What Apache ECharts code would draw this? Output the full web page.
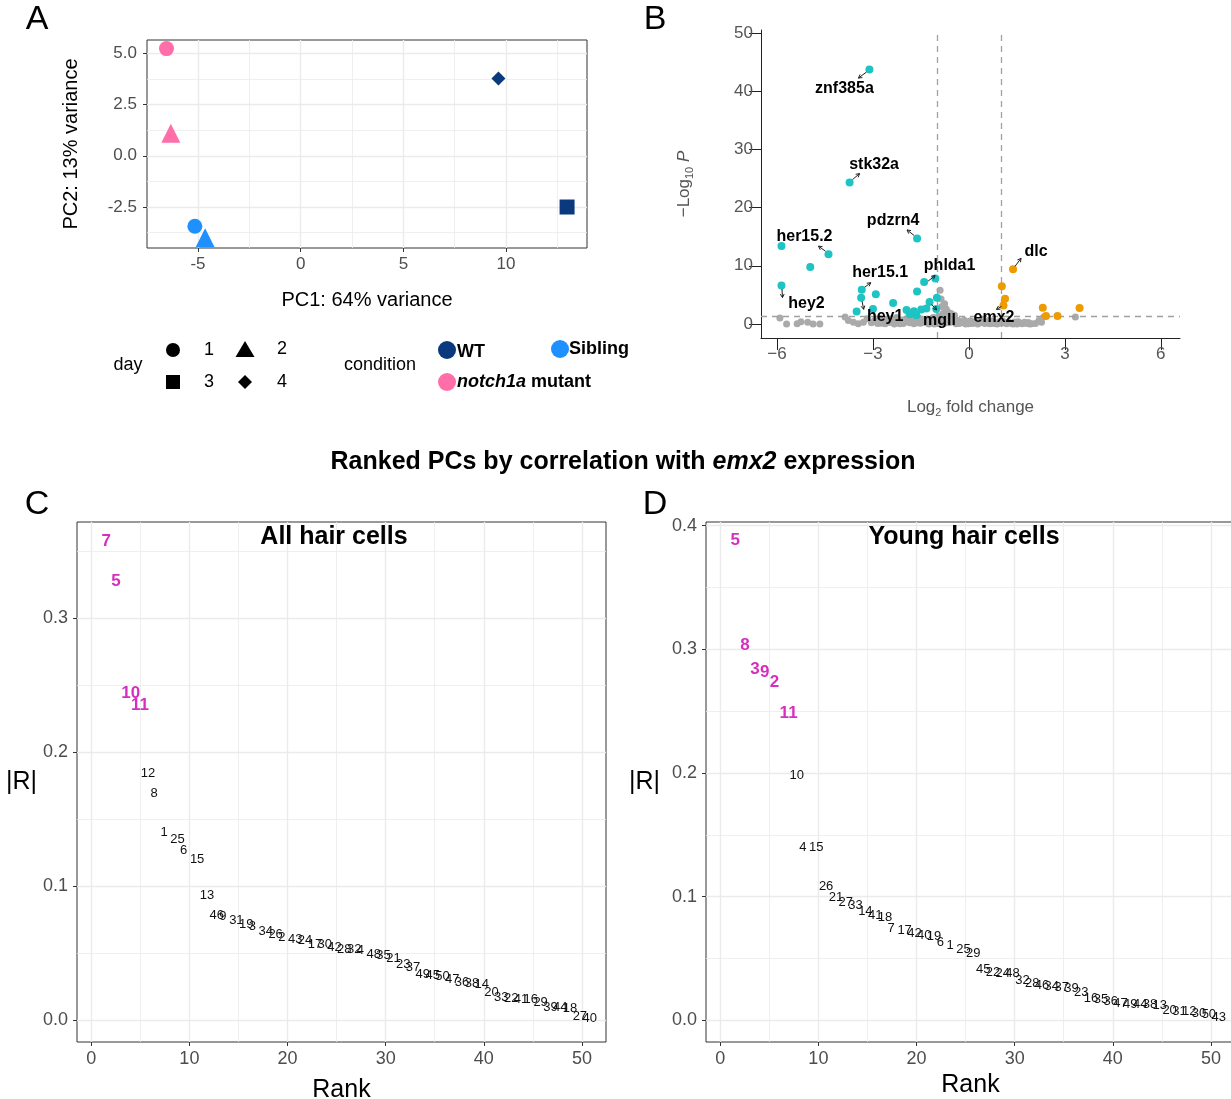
<!DOCTYPE html>
<html><head><meta charset="utf-8">
<script src="https://cdn.jsdelivr.net/npm/echarts@6/dist/echarts.min.js"></script>
<style>html,body{margin:0;padding:0;background:#fff}#c{width:1231px;height:1099px}</style>
</head><body><div id="c"></div>
<script>
// ---------------- DATA ----------------
// Panel A: PCA
const pcaX = [-6.53, -6.32, -5.15, -4.65, 9.63, 12.97];
const pcaY = [5.23, 1.10, -3.44, -4.00, 3.77, -2.50];
const pcaDay = [1, 2, 1, 2, 4, 3];
const pcaCond = ['notch1a mutant', 'notch1a mutant', 'Sibling', 'Sibling', 'WT', 'WT'];
const aXMajor = [-5, 0, 5, 10];
const aXMinor = [-2.5, 2.5, 7.5, 12.5];
const aYMajor = [-2.5, 0, 2.5, 5];
const aYMinor = [-3.75, -1.25, 1.25, 3.75];

// Panel B: volcano
const tealLfc = [-3.11,-3.73,-1.62,-5.86,-4.39,-4.96,-5.86,-1.05,-1.40,-3.35,-2.91,-1.62,-3.37,-1.00,-2.37,-1.23,-3.51,-3.00,-1.95,-1.72,-1.64,-1.49,-1.33,-1.02,-1.85];
const tealP   = [43.7, 24.3, 14.7, 13.4, 12.0, 9.8, 6.6, 7.8, 7.2, 5.9, 5.1, 5.6, 4.5, 4.5, 3.6, 3.8, 2.16, 2.6, 2.4, 2.2, 1.5, 2.5, 2.65, 2.6, 1.7];
const orgLfc = [1.38, 1.03, 1.13, 1.08, 2.31, 3.46, 2.41, 2.77];
const orgP   = [9.4, 6.5, 4.35, 3.2, 2.8, 2.75, 1.36, 1.36];
const grayLfc = [-5.91,-5.70,-5.37,-5.25,-5.04,-4.87,-4.66,-3.87,-3.77,-3.61,-3.46,-3.30,-3.18,
 -3.05,-2.95,-2.85,-2.78,-2.70,-2.62,-2.55,-2.48,-2.40,-2.33,-2.26,-2.20,-2.12,-2.05,-1.98,-1.92,-1.85,-1.78,-1.72,-1.65,-1.58,-1.52,-1.45,-1.38,-1.32,-1.25,-1.18,-1.12,-1.05,-0.98,
 -0.90,-0.87,-0.76,-0.71,-0.66,-0.81,-0.56,-0.45,-0.85,-0.62,-0.95,-0.75,-0.68,-0.50,
 -0.92,-0.85,-0.78,-0.70,-0.62,-0.55,-0.48,-0.40,-0.33,-0.25,-0.18,-0.10,-0.03,0.05,0.12,0.20,0.28,0.35,0.42,0.50,0.58,0.65,0.72,0.80,0.88,0.95,1.02,1.10,1.18,1.26,1.34,1.42,1.50,1.58,1.66,1.74,1.82,1.90,
 -2.90,-2.75,-2.58,-2.44,-2.30,-2.16,-2.02,-1.88,-1.75,-1.62,-1.48,-1.35,-1.22,-1.08,-0.95,-0.74,-0.58,-0.44,-0.30,-0.14,0.00,0.15,0.30,0.46,0.62,0.76,0.92,1.06,1.22,1.38,1.54,1.70,1.86,1.96,
 2.08,2.19,2.34,2.27,3.33];
const grayP = [1.02,0.0,0.05,0.4,0.3,0.0,0.0,1.2,0.6,0.3,0.05,0.3,0.9,
 0.2,0.6,0.1,1.0,0.35,0.05,0.8,0.25,0.5,0.0,1.1,0.3,0.7,0.1,0.45,0.9,0.2,0.6,0.05,0.35,1.0,0.15,0.55,0.25,0.8,0.0,0.4,1.1,0.2,0.65,
 5.8,4.3,3.5,2.6,2.1,1.8,1.8,1.5,3.0,1.3,1.4,1.2,1.6,1.25,
 0.3,0.9,0.1,0.5,0.2,0.8,0.35,0.05,0.6,0.2,0.45,0.0,0.3,0.55,0.1,0.4,0.0,0.25,0.6,0.1,0.35,0.05,0.5,0.2,0.0,0.4,0.15,0.3,0.05,0.25,0.1,0.35,0.0,0.2,0.05,0.3,0.1,0.0,
 0.4,0.15,0.55,0.9,0.3,0.05,0.75,0.35,1.1,0.2,0.85,0.45,0.7,0.0,1.0,0.7,0.45,1.0,0.1,0.65,0.05,0.3,0.5,0.2,0.6,0.1,0.2,0.5,0.3,0.0,0.4,0.15,0.25,0.05,
 0.1,0.6,1.2,0.3,1.2];
const labGene = ['znf385a','stk32a','pdzrn4','her15.2','hey2','her15.1','hey1','phlda1','mgll','emx2','dlc'];
const labLfc  = [-3.11, -3.73, -1.62, -4.39, -5.86, -3.35, -3.37, -1.40, -1.23, 1.08, 1.38];
const labP    = [43.7, 24.3, 14.7, 12.0, 6.6, 5.9, 4.5, 7.2, 3.8, 3.2, 9.4];
const fcCut = [-1, 1];
const pCut = [1.3];
const bXTicks = [-6, -3, 0, 3, 6];
const bYTicks = [0, 10, 20, 30, 40, 50];

// Panel C / D: ranked PCs
const ranks = [1,2,3,4,5,6,7,8,9,10,11,12,13,14,15,16,17,18,19,20,21,22,23,24,25,26,27,28,29,30,31,32,33,34,35,36,37,38,39,40,41,42,43,44,45,46,47,48,49,50];
const cPC = [7,5,10,11,12,8,1,25,6,15,13,46,9,31,19,3,34,26,2,43,24,17,30,42,28,32,4,48,35,21,23,37,49,45,50,47,36,38,14,20,33,22,41,16,29,39,44,18,27,40];
const cR = [0.357,0.327,0.244,0.235,0.184,0.169,0.140,0.135,0.127,0.120,0.093,0.0785,0.0775,0.0743,0.0713,0.070,0.066,0.0643,0.0618,0.0605,0.0593,0.0568,0.0563,0.0543,0.053,0.0525,0.052,0.0493,0.048,0.0465,0.0413,0.0392,0.0343,0.0338,0.033,0.0305,0.028,0.0272,0.027,0.0205,0.0167,0.016,0.0158,0.0155,0.013,0.0098,0.0097,0.0092,0.003,0.0013];
const cTop = [7, 5, 10, 11];
const dPC = [5,8,3,9,2,11,10,4,15,26,21,27,33,14,41,18,7,17,42,40,19,6,1,25,29,45,22,24,48,32,28,46,34,37,39,23,16,35,36,47,49,44,38,13,20,31,12,30,50,43];
const dR = [0.388,0.303,0.2837,0.2816,0.273,0.248,0.198,0.140,0.140,0.108,0.0994,0.0954,0.0932,0.0877,0.0845,0.0836,0.0742,0.0726,0.0707,0.069,0.068,0.0628,0.061,0.0575,0.054,0.041,0.0385,0.0383,0.038,0.032,0.030,0.0283,0.0275,0.027,0.026,0.0229,0.018,0.0168,0.0154,0.014,0.0132,0.0127,0.0125,0.012,0.0078,0.0073,0.007,0.006,0.0052,0.0024];
const dTop = [5, 8, 3, 9, 2, 11];
const cXMajor = [0, 10, 20, 30, 40, 50];
const cXMinor = [5, 15, 25, 35, 45];
const cYMajor = [0, 0.1, 0.2, 0.3];
const cYMinor = [0.05, 0.15, 0.25, 0.35];
const dYMajor = [0, 0.1, 0.2, 0.3, 0.4];
const dYMinor = [0.05, 0.15, 0.25, 0.35];

// ---------------- STYLE ----------------
const FONT = '"Liberation Sans", Arial, Helvetica, sans-serif';
const condColor = {'WT': '#0A3A7D', 'Sibling': '#1E90FF', 'notch1a mutant': '#FF6EA8'};
const daySymbol = {1: ['circle', 15], 2: ['triangle', 19], 3: ['rect', 15], 4: ['diamond', 14]};
const TEAL = '#1EC3C3', ORANGE = '#EE9B00', GRAY = '#AAAAAA', MAGENTA = '#D62FBF';
const GRID_COL = '#EBEBEB';
// label placement (pixel offsets of text centre and arrow from the point)
const labelStyle = {
  'znf385a': {o: [-25, 19], a: [-3, 2.5, -11, 8.5]},
  'stk32a':  {o: [24.5, -17.5], a: [3, -3, 10, -9]},
  'pdzrn4':  {o: [-24, -17.4], a: [-3, -3, -10, -8.5]},
  'her15.2': {o: [-24, -17.5], a: [-3, -3, -10, -8]},
  'hey2':    {o: [25, 18], a: [0.5, 3.5, 1, 12]},
  'her15.1': {o: [18.4, -17], a: [3, -2.5, 9, -7]},
  'hey1':    {o: [24, 19], a: [1, 3.5, 2.5, 11.5]},
  'phlda1':  {o: [25.5, -16.7], a: [4, -1, 11, -6.5]},
  'mgll':    {o: [10, 18.5], a: [2, 2.5, 7, 8]},
  'emx2':    {o: [-9.4, 11.7], a: [-2, 1, -7, 4]},
  'dlc':     {o: [23, -18], a: [2, -3, 8, -11]}
};

function gridSeries(xi, xMaj, xMin, yMaj, yMin) {
  const maj = {color: GRID_COL, width: 1.4, type: 'solid'};
  const mn = {color: GRID_COL, width: 0.8, type: 'solid'};
  const data = []
    .concat(xMin.map(v => ({xAxis: v, lineStyle: mn})))
    .concat(yMin.map(v => ({yAxis: v, lineStyle: mn})))
    .concat(xMaj.map(v => ({xAxis: v, lineStyle: maj})))
    .concat(yMaj.map(v => ({yAxis: v, lineStyle: maj})));
  return {type: 'scatter', xAxisIndex: xi, yAxisIndex: xi, data: [], z: 0, silent: true,
    markLine: {silent: true, z: 0, symbol: ['none', 'none'], label: {show: false}, animation: false,
      emphasis: {disabled: true}, data: data}};
}

function boxAxisX(gi, min, max, ticks, fmt, name, gap, nameSize, size, margin) {
  return {type: 'value', gridIndex: gi, min: min, max: max,
    axisLine: {show: false, onZero: false},
    axisTick: {show: true, length: 4, lineStyle: {color: '#333', width: 1}, customValues: ticks},
    axisLabel: {customValues: ticks, formatter: fmt, color: '#4D4D4D', fontSize: size, margin: margin, fontFamily: FONT},
    splitLine: {show: false},
    name: name, nameLocation: 'middle', nameGap: gap,
    nameTextStyle: {fontSize: nameSize, color: '#000', fontFamily: FONT}};
}
function boxAxisY(gi, min, max, ticks, fmt, name, gap, nameSize, rotate, size, margin) {
  return {type: 'value', gridIndex: gi, min: min, max: max,
    axisLine: {show: false, onZero: false},
    axisTick: {show: true, length: 4, lineStyle: {color: '#333', width: 1}, customValues: ticks},
    axisLabel: {customValues: ticks, formatter: fmt, color: '#4D4D4D', fontSize: size, margin: margin, fontFamily: FONT},
    splitLine: {show: false},
    name: name, nameLocation: 'middle', nameGap: gap, nameRotate: rotate,
    nameTextStyle: {fontSize: nameSize, color: '#000', fontFamily: FONT}};
}

const fmt1 = v => v.toFixed(1);
const fmtInt = v => String(v);
const fmtMinus = v => (v < 0 ? '\u2212' + Math.abs(v) : String(v));

function rankSeries(idx, pcs, vals, top, isTop) {
  const data = [];
  pcs.forEach((pc, i) => {
    if ((top.indexOf(pc) >= 0) === isTop) data.push({name: String(pc), value: [ranks[i], vals[i]]});
  });
  return {type: 'scatter', xAxisIndex: idx, yAxisIndex: idx, data: data, symbolSize: 1, z: 5,
    itemStyle: {color: 'rgba(0,0,0,0)', opacity: 1}, silent: true, emphasis: {disabled: true},
    label: {show: true, position: 'right', distance: 0, formatter: '{b}', fontFamily: FONT, opacity: 1,
      fontSize: isTop ? 17 : 13, fontWeight: isTop ? 'bold' : 'normal', color: isTop ? MAGENTA : '#111'}};
}

const option = {
  animation: false,
  backgroundColor: '#fff',
  textStyle: {fontFamily: FONT},
  grid: [
    {left: 147, top: 40, width: 440, height: 208, show: true, borderColor: '#333', borderWidth: 1, backgroundColor: '#fff', outerBoundsMode: 'none', containLabel: false},
    {left: 761, top: 30, width: 419, height: 308, show: false, outerBoundsMode: 'none', containLabel: false},
    {left: 77, top: 522, width: 529, height: 520, show: true, borderColor: '#333', borderWidth: 1, backgroundColor: '#fff', outerBoundsMode: 'none', containLabel: false},
    {left: 706, top: 522, width: 529, height: 520, show: true, borderColor: '#333', borderWidth: 1, backgroundColor: '#fff', outerBoundsMode: 'none', containLabel: false}
  ],
  xAxis: [
    boxAxisX(0, -7.48, 13.94, aXMajor, fmtInt, 'PC1: 64% variance', 42, 20, 17, 8),
    {type: 'value', gridIndex: 1, min: -6.5, max: 6.6,
      axisLine: {show: true, onZero: false, lineStyle: {color: '#222', width: 1}},
      axisTick: {show: true, length: 12, customValues: bXTicks, lineStyle: {color: '#222', width: 1}},
      axisLabel: {customValues: bXTicks, formatter: fmtMinus, color: '#555', fontSize: 17, margin: 8, fontFamily: FONT},
      splitLine: {show: false},
      name: '{n|Log}{s|2}{n| fold change}', nameLocation: 'middle', nameGap: 58,
      nameTextStyle: {color: '#555', fontFamily: FONT, rich: {
        n: {fontSize: 17, color: '#555', lineHeight: 22, fontFamily: FONT},
        s: {fontSize: 11, color: '#555', lineHeight: 22, verticalAlign: 'bottom', fontFamily: FONT}}}},
    boxAxisX(2, -1.45, 52.45, cXMajor, fmtInt, 'Rank', 36, 25, 18, 8),
    boxAxisX(3, -1.45, 52.45, cXMajor, fmtInt, 'Rank', 31, 25, 18, 8)
  ],
  yAxis: [
    boxAxisY(0, -4.5, 5.65, aYMajor, fmt1, 'PC2: 13% variance', 66, 20, 90, 17, 10),
    {type: 'value', gridIndex: 1, min: -2.4, max: 50.5,
      axisLine: {show: true, onZero: false, lineStyle: {color: '#222', width: 1}},
      axisTick: {show: true, length: 12, customValues: bYTicks, lineStyle: {color: '#222', width: 1}},
      axisLabel: {customValues: bYTicks, color: '#555', fontSize: 17, margin: 8, fontFamily: FONT},
      splitLine: {show: false},
      name: '{n|\u2212Log}{s|10}{n| }{i|P}', nameLocation: 'middle', nameGap: 66, nameRotate: 90,
      nameTextStyle: {color: '#555', fontFamily: FONT, rich: {
        n: {fontSize: 17, color: '#555', lineHeight: 22, fontFamily: FONT},
        i: {fontSize: 17, color: '#555', lineHeight: 22, fontStyle: 'italic', fontFamily: FONT},
        s: {fontSize: 11, color: '#555', lineHeight: 22, verticalAlign: 'bottom', fontFamily: FONT}}}},
    boxAxisY(2, -0.0162, 0.3716, cYMajor, fmt1, '|R|', 40, 25, 0, 18, 9),
    boxAxisY(3, -0.0175, 0.403, dYMajor, fmt1, '|R|', 46, 25, 0, 18, 9)
  ],
  series: [
    gridSeries(0, aXMajor, aXMinor, aYMajor, aYMinor),
    {type: 'scatter', xAxisIndex: 0, yAxisIndex: 0, z: 3, emphasis: {disabled: true},
      data: pcaX.map((x, i) => ({value: [x, pcaY[i]], symbol: daySymbol[pcaDay[i]][0], symbolSize: daySymbol[pcaDay[i]][1],
        itemStyle: {color: condColor[pcaCond[i]], opacity: 1}}))},
    {type: 'scatter', xAxisIndex: 1, yAxisIndex: 1, z: 2, symbolSize: 7, emphasis: {disabled: true},
      itemStyle: {color: GRAY, opacity: 1}, data: grayLfc.map((x, i) => [x, grayP[i]])},
    {type: 'scatter', xAxisIndex: 1, yAxisIndex: 1, data: [], z: 3, silent: true,
      markLine: {silent: true, z: 3, symbol: ['none', 'none'], label: {show: false}, animation: false,
        emphasis: {disabled: true},
        lineStyle: {color: '#A0A0A0', width: 1.3, type: [6, 5]},
        data: fcCut.map(v => ({xAxis: v})).concat(pCut.map(v => ({yAxis: v})))}},
    {type: 'scatter', xAxisIndex: 1, yAxisIndex: 1, z: 4, symbolSize: 8, emphasis: {disabled: true},
      itemStyle: {color: TEAL, opacity: 1}, data: tealLfc.map((x, i) => [x, tealP[i]])},
    {type: 'scatter', xAxisIndex: 1, yAxisIndex: 1, z: 4, symbolSize: 8, emphasis: {disabled: true},
      itemStyle: {color: ORANGE, opacity: 1}, data: orgLfc.map((x, i) => [x, orgP[i]])},
    {type: 'scatter', xAxisIndex: 1, yAxisIndex: 1, z: 6, symbolSize: 1, silent: true, emphasis: {disabled: true},
      itemStyle: {color: 'rgba(0,0,0,0)', opacity: 1},
      label: {show: true, position: 'inside', formatter: '{b}', fontFamily: FONT, fontSize: 16, fontWeight: 'bold', color: '#000', opacity: 1},
      data: labGene.map((g, i) => ({name: g, value: [labLfc[i], labP[i]], label: {offset: labelStyle[g].o}}))},
    gridSeries(2, cXMajor, cXMinor, cYMajor, cYMinor),
    rankSeries(2, cPC, cR, cTop, false),
    rankSeries(2, cPC, cR, cTop, true),
    gridSeries(3, cXMajor, cXMinor, dYMajor, dYMinor),
    rankSeries(3, dPC, dR, dTop, false),
    rankSeries(3, dPC, dR, dTop, true)
  ]
};

const chart = echarts.init(document.getElementById('c'), null, {renderer: 'canvas'});
chart.setOption(option);

// ---------- annotations (graphic) ----------
function txt(x, y, text, size, opts) {
  return Object.assign({type: 'text', x: x, y: y, silent: true,
    style: Object.assign({text: text, fontSize: size, fontFamily: FONT, fill: '#000', align: 'center', verticalAlign: 'middle'}, opts || {})});
}
const g = [];
g.push(txt(37, 20, 'A', 34), txt(655, 20, 'B', 34), txt(37, 505, 'C', 34), txt(655, 505, 'D', 34));
g.push(txt(623, 462, '{b|Ranked PCs by correlation with }{bi|emx2}{b| expression}', 25, {rich: {
  b: {fontSize: 25, fontWeight: 'bold', fontFamily: FONT, fill: '#000'},
  bi: {fontSize: 25, fontWeight: 'bold', fontStyle: 'italic', fontFamily: FONT, fill: '#000'}}}));
g.push(txt(334, 537, 'All hair cells', 25, {fontWeight: 'bold'}));
g.push(txt(964, 537, 'Young hair cells', 25, {fontWeight: 'bold'}));
// panel A legend
g.push(txt(128, 365, 'day', 18));
g.push({type: 'circle', shape: {cx: 173, cy: 350, r: 7}, style: {fill: '#000'}, silent: true});
g.push({type: 'polygon', shape: {points: [[245, 341], [254.5, 357], [235.5, 357]]}, style: {fill: '#000'}, silent: true});
g.push({type: 'rect', shape: {x: 166, y: 375, width: 14, height: 14}, style: {fill: '#000'}, silent: true});
g.push({type: 'polygon', shape: {points: [[245, 375], [252, 382], [245, 389], [238, 382]]}, style: {fill: '#000'}, silent: true});
g.push(txt(209, 350, '1', 18), txt(282, 349, '2', 18), txt(209, 382, '3', 18), txt(282, 382, '4', 18));
g.push(txt(380, 365, 'condition', 18));
g.push({type: 'circle', shape: {cx: 447, cy: 350, r: 9}, style: {fill: condColor['WT']}, silent: true});
g.push(txt(457, 352, 'WT', 18, {align: 'left', fontWeight: 'bold'}));
g.push({type: 'circle', shape: {cx: 560, cy: 349, r: 9}, style: {fill: condColor['Sibling']}, silent: true});
g.push(txt(569, 349, 'Sibling', 18, {align: 'left', fontWeight: 'bold'}));
g.push({type: 'circle', shape: {cx: 447, cy: 382, r: 9}, style: {fill: condColor['notch1a mutant']}, silent: true});
g.push(txt(457, 382, '{bi|notch1a}{b| mutant}', 18, {align: 'left', rich: {
  b: {fontSize: 18, fontWeight: 'bold', fontFamily: FONT, fill: '#000'},
  bi: {fontSize: 18, fontWeight: 'bold', fontStyle: 'italic', fontFamily: FONT, fill: '#000'}}}));
// volcano connector arrows
labGene.forEach((gname, i) => {
  const st = labelStyle[gname];
  const p = chart.convertToPixel({gridIndex: 1}, [labLfc[i], labP[i]]);
  const x1 = p[0] + st.a[0], y1 = p[1] + st.a[1], x2 = p[0] + st.a[2], y2 = p[1] + st.a[3];
  const ang = Math.atan2(y2 - y1, x2 - x1), h = 4;
  g.push({type: 'polyline', silent: true, z: 10, shape: {points: [[x1, y1], [x2, y2]]}, style: {stroke: '#222', lineWidth: 1}});
  g.push({type: 'polyline', silent: true, z: 10, shape: {points: [
    [x2 - h * Math.cos(ang - 0.5), y2 - h * Math.sin(ang - 0.5)], [x2, y2],
    [x2 - h * Math.cos(ang + 0.5), y2 - h * Math.sin(ang + 0.5)]]}, style: {stroke: '#222', lineWidth: 1, fill: null}});
});
chart.setOption({graphic: {elements: g}});
</script>
</body></html>
